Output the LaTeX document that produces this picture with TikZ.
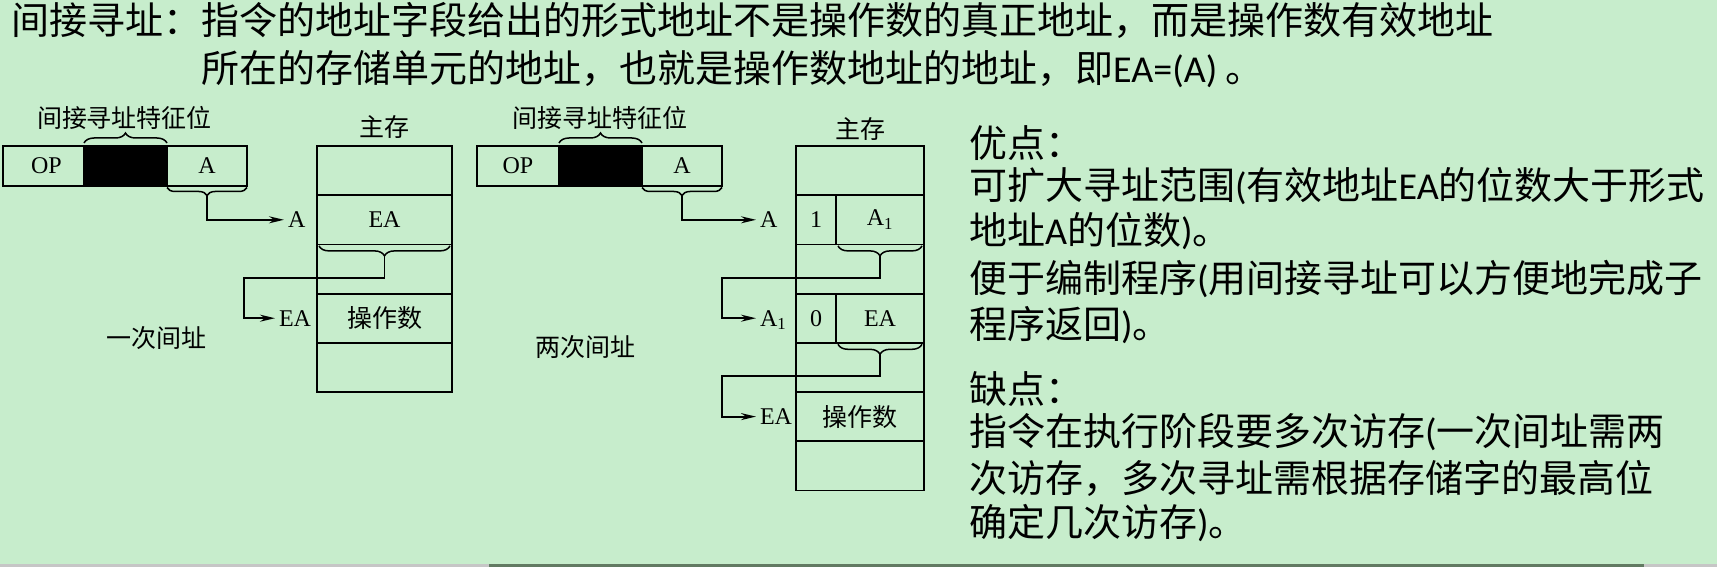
\documentclass[tikz,border=0pt]{standalone}
\usepackage{fontspec}
\setmainfont{Liberation Serif}
\newfontfamily\cjk{Noto Sans CJK SC}
\newfontfamily\carl{Carlito}
\usetikzlibrary{decorations.pathreplacing,arrows.meta}
\definecolor{bg}{RGB}{199,237,204}
\definecolor{stripc}{RGB}{98,122,98}
\begin{document}
\begin{tikzpicture}[x=1pt,y=-1pt,
  cell/.style={draw, line width=1.8pt, inner sep=0pt, outer sep=0pt, anchor=north west, font=\fontsize{24}{28}\selectfont},
  zh/.style={font=\fontsize{25}{30}\selectfont\cjk, inner sep=0pt},
  zhcell/.style={font=\fontsize{25}{30}\selectfont\cjk},
  lbl/.style={font=\fontsize{24}{28}\selectfont, anchor=west, inner xsep=4pt, inner ysep=0pt, outer sep=0pt, text depth=0pt},
  txt/.style={font=\fontsize{38}{46}\selectfont\cjk, anchor=base west, inner sep=0pt},
  brc/.style={decorate, decoration={brace, amplitude=#1}, line width=1.5pt},
  conn/.style={line width=1.8pt, -{Stealth[length=15pt,width=7pt]}},
]
\useasboundingbox (0,0) rectangle (1717,567);
\fill[bg] (0,0) rectangle (1717,567);

% ---------- title ----------
\node[txt] (t1) at (11,35) {间接寻址：指令的地址字段给出的形式地址不是操作数的真正地址，而是操作数有效地址};
\node[txt] (t2) at (201,83) {所在的存储单元的地址，也就是操作数地址的地址，即{\carl EA=(A) }。};

% ---------- left diagram ----------
\node[zh] (featL) at (124.5,118) {间接寻址特征位};
\node[cell, minimum width=81pt, minimum height=40pt, text depth=0pt, xshift=0pt] (opL) at (3,146) {\hspace*{6pt}OP};
\node[cell, fill=black, minimum width=83pt, minimum height=40pt] (bkL) at (84,146) {};
\node[cell, minimum width=80pt, minimum height=40pt] (aL) at (167,146) {A};
\draw[brc=10] ([yshift=3pt]bkL.north west) -- ([yshift=3pt]bkL.north east);
\draw[brc=8] ([yshift=-1.5pt]aL.south east) -- ([yshift=-1.5pt]aL.south west);
\coordinate (tipL1) at (207,195.5);

\node[zh] (msL) at (384.5,127) {主存};
\node[cell, minimum width=135pt, minimum height=49.2pt] (mL1) at (317,146) {};
\node[cell, minimum width=135pt, minimum height=49.2pt] (mL2) at (317,195.2) {EA};
\node[cell, minimum width=135pt, minimum height=49.2pt] (mL3) at (317,244.4) {};
\node[cell, zhcell, minimum width=135pt, minimum height=49.2pt] (mL4) at (317,293.6) {操作数};
\node[cell, minimum width=135pt, minimum height=49.2pt] (mL5) at (317,342.8) {};
\draw[brc=10] ([xshift=-2pt,yshift=-1.5pt]mL2.south east) -- ([xshift=2pt,yshift=-1.5pt]mL2.south west);
\coordinate (tipL2) at (384.5,256);
\coordinate (bendL) at (244,278);

\node[lbl] (lA) at (284,219.8) {A};
\node[lbl] (lEA) at (275,318.2) {EA};
\draw[conn] (tipL1) |- (lA.west);
\draw[conn] (tipL2) |- (bendL) |- (lEA.west);
\node[zh] (oneL) at (156,338) {一次间址};

% ---------- right diagram ----------
\node[zh] (featR) at (600,118) {间接寻址特征位};
\node[cell, minimum width=82pt, minimum height=40pt] (opR) at (477,146) {OP};
\node[cell, fill=black, minimum width=83pt, minimum height=40pt] (bkR) at (559,146) {};
\node[cell, minimum width=80pt, minimum height=40pt] (aR) at (642,146) {A};
\draw[brc=10] ([yshift=3pt]bkR.north west) -- ([yshift=3pt]bkR.north east);
\draw[brc=8] ([yshift=-1.5pt]aR.south east) -- ([yshift=-1.5pt]aR.south west);
\coordinate (tipR1) at (682,195.5);

\node[zh] (msR) at (860,129) {主存};
\node[cell, minimum width=128pt, minimum height=49.2pt] (mR1) at (796,146) {};
\node[cell, minimum width=40pt, minimum height=49.2pt] (mR2a) at (796,195.2) {1};
\node[cell, minimum width=88pt, minimum height=49.2pt] (mR2b) at (836,195.2) {A\textsubscript{1}};
\node[cell, minimum width=128pt, minimum height=49.2pt] (mR3) at (796,244.4) {};
\node[cell, minimum width=40pt, minimum height=49.2pt] (mR4a) at (796,293.6) {0};
\node[cell, minimum width=88pt, minimum height=49.2pt] (mR4b) at (836,293.6) {EA};
\node[cell, minimum width=128pt, minimum height=49.2pt] (mR5) at (796,342.8) {};
\node[cell, zhcell, minimum width=128pt, minimum height=49.2pt] (mR6) at (796,392) {操作数};
\node[cell, minimum width=128pt, minimum height=49.2pt] (mR7) at (796,441.2) {};
\draw[brc=10] ([xshift=-2pt,yshift=-1.5pt]mR2b.south east) -- ([xshift=2pt,yshift=-1.5pt]mR2b.south west);
\draw[brc=10] ([xshift=-2pt,yshift=-1.5pt]mR4b.south east) -- ([xshift=2pt,yshift=-1.5pt]mR4b.south west);
\coordinate (tipR2) at (880,256);
\coordinate (tipR3) at (880,354.3);
\coordinate (bendR1) at (722,278);
\coordinate (bendR2) at (722,376);

\node[lbl] (lRA) at (756,219.8) {A};
\node[lbl] (lRA1) at (756,318.2) {A\textsubscript{1}};
\node[lbl] (lREA) at (756,416.6) {EA};
\draw[conn] (tipR1) |- (lRA.west);
\draw[conn] (tipR2) |- (bendR1) |- (lRA1.west);
\draw[conn] (tipR3) |- (bendR2) |- (lREA.west);
\node[zh] (twoR) at (585,347) {两次间址};

% ---------- right text ----------
\node[txt] (adv) at (969,158) {优点：};
\node[txt] (adv1) at (969,200) {可扩大寻址范围{\carl (}有效地址{\carl EA}的位数大于形式};
\node[txt] (adv2) at (969,244) {地址{\carl A}的位数{\carl )}。};
\node[txt] (adv3) at (969,292) {便于编制程序{\carl (}用间接寻址可以方便地完成子};
\node[txt] (adv4) at (969,338) {程序返回{\carl )}。};
\node[txt] (dis) at (969,403) {缺点：};
\node[txt] (dis1) at (969,445) {指令在执行阶段要多次访存{\carl (}一次间址需两};
\node[txt] (dis2) at (969,492) {次访存，多次寻址需根据存储字的最高位};
\node[txt] (dis3) at (969,536) {确定几次访存{\carl )}。};

% ---------- bottom strip ----------
\fill[gray!45] (0,564) rectangle (489,567);
\fill[stripc] (489,564) rectangle (1644,567);
\fill[gray!45] (1644,564) rectangle (1717,567);
\end{tikzpicture}
\end{document}
